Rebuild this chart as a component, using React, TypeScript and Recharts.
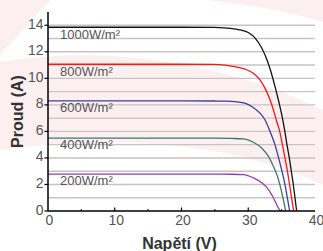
import React from "react";
import { LineChart, Line, XAxis, YAxis, CartesianGrid, ReferenceDot } from "recharts";

// I-V curves of a PV module at different irradiance levels
const irradianceLabels = ["1000W/m²", "800W/m²", "600W/m²", "400W/m²", "200W/m²"];
const curveColors = ["#111111", "#ff1414", "#3b3f9c", "#3a7773", "#9b3aae"];

const v1000 = [0, 10, 20, 25, 26.5, 28.5, 30.0, 31.0, 32.0, 32.8, 33.4, 34.0, 34.5, 35.0, 35.45, 35.8, 36.15, 36.45, 36.75, 37.0, 37.25];
const i1000 = [13.85, 13.85, 13.85, 13.84, 13.8, 13.68, 13.45, 13.05, 12.3, 11.4, 10.5, 9.4, 8.4, 7.3, 6.1, 5.0, 4.0, 3.0, 2.0, 1.0, 0];

const v800 = [0, 10, 20, 25, 26.5, 28.0, 29.5, 30.76, 31.76, 32.5, 33.26, 33.76, 34.26, 34.65, 35.0, 35.5, 36.0, 36.4, 36.8];
const i800 = [11.06, 11.06, 11.06, 11.05, 11.0, 10.88, 10.7, 10.38, 9.88, 9.26, 8.38, 7.63, 6.75, 6.13, 5.3, 4.0, 2.6, 1.3, 0];

const v600 = [0, 10, 20, 25, 26.5, 28.0, 29.5, 30.76, 31.76, 32.5, 33.26, 34.0, 34.55, 35.05, 35.5, 35.85, 36.2];
const i600 = [8.3, 8.3, 8.3, 8.29, 8.28, 8.25, 8.13, 7.8, 7.38, 6.88, 6.0, 5.0, 4.0, 3.0, 2.0, 1.0, 0];

const v400 = [0, 10, 20, 25, 27.5, 29.3, 30.76, 32.0, 33.0, 33.76, 34.36, 34.86, 35.25, 35.6];
const i400 = [5.5, 5.5, 5.5, 5.49, 5.47, 5.43, 5.18, 4.75, 4.13, 3.38, 2.63, 1.75, 0.88, 0];

const v200 = [0, 10, 20, 25, 27.5, 29.3, 30.76, 32.0, 33.0, 33.76, 34.36, 34.8];
const i200 = [2.78, 2.78, 2.78, 2.78, 2.77, 2.74, 2.5, 2.13, 1.63, 1.0, 0.38, 0];

const xTicks = [0, 5, 10, 15, 20, 25, 30, 35, 40];
const yTicks = [0, 2, 4, 6, 8, 10, 12, 14];
const gridValues = [1, 2, 3, 4, 5, 6, 7, 8, 9, 10, 11, 12, 13, 14];
const rightTicks = [0.5, 1, 1.5, 2, 2.5, 3, 3.5, 4, 4.5, 5, 5.5, 6, 6.5, 7, 7.5, 8, 8.5, 9, 9.5, 10, 10.5, 11, 11.5, 12, 12.5, 13, 13.5, 14, 14.5];

const curves = [
  { v: v1000, i: i1000 },
  { v: v800, i: i800 },
  { v: v600, i: i600 },
  { v: v400, i: i400 },
  { v: v200, i: i200 },
].map((c) => c.v.map((v, k) => ({ v, i: c.i[k] })));

const FONT = "'Liberation Sans', Arial, sans-serif";
const TICK_COLOR = "#555";

const XTick = ({ x, y, payload }: any) => {
  const val = payload.value;
  const major = val % 10 === 0;
  return (
    <g>
      {val > 0 && val < 40 && (
        <line x1={x} x2={x} y1={y} y2={y - (major ? 3.5 : 1.8)} stroke="#000" strokeWidth={1.2} />
      )}
      {major && (
        <text x={x + 1.5} y={y + 13.5} textAnchor="middle" fill={TICK_COLOR} fontSize={14} fontFamily={FONT}>
          {val}
        </text>
      )}
    </g>
  );
};

const YTick = ({ x, y, payload }: any) => (
  <g>
    <line x1={x - 3.5} x2={x} y1={y} y2={y} stroke="#000" strokeWidth={1.2} />
    <text x={x - 4.5} y={y + 3.5} textAnchor="end" fill={TICK_COLOR} fontSize={14} fontFamily={FONT}>
      {payload.value}
    </text>
  </g>
);

const RTick = ({ x, y }: any) => <line x1={x - 2} x2={x} y1={y} y2={y} stroke="#000" strokeWidth={1} />;

export default function App() {
  return (
    <div style={{ position: "absolute", left: 0, top: 0, width: 323, height: 251, background: "#fff" }}>
      <svg width={323} height={251} style={{ position: "absolute", left: 0, top: 0 }}>
        <path d="M0,0 L50,0 L0,55 Z" fill="#fcefef" />
        <path d="M205,0 L323,0 L323,22 Q270,6 205,0 Z" fill="#fcefef" />
        <path d="M0,62 C100,45 220,60 323,110 L323,185 C230,140 110,135 0,150 Z" fill="#fcefef" />
      </svg>
      <div style={{ position: "absolute", left: 0, top: 0 }}>
        <LineChart width={323} height={251} margin={{ top: 12, right: 8, bottom: 0, left: 0 }}>
          <CartesianGrid horizontal vertical={false} horizontalValues={gridValues} stroke="#c9c3c3" strokeWidth={1.4} />
          <XAxis
            dataKey="v"
            type="number"
            domain={[0, 40]}
            ticks={xTicks}
            interval={0}
            height={40}
            tickSize={0}
            tickMargin={0}
            tickLine={false}
            axisLine={{ stroke: "#000", strokeWidth: 1.5 }}
            tick={<XTick />}
            label={{ value: "Napětí (V)", position: "insideBottom", offset: 2, dx: -2, fill: "#333", fontSize: 16, fontWeight: 700, fontFamily: FONT }}
          />
          <XAxis xAxisId="top" orientation="top" type="number" domain={[0, 40]} height={0} tick={false} tickLine={false} axisLine={{ stroke: "#000", strokeWidth: 1.5 }} />
          <YAxis
            type="number"
            domain={[0, 15]}
            ticks={yTicks}
            interval={0}
            width={48}
            tickSize={0}
            tickMargin={0}
            tickLine={false}
            axisLine={{ stroke: "#000", strokeWidth: 1.5 }}
            tick={<YTick />}
            label={{ value: "Proud (A)", angle: -90, position: "center", dx: -7, fill: "#333", fontSize: 16, fontWeight: 700, fontFamily: FONT }}
          />
          <YAxis
            yAxisId="r"
            orientation="right"
            type="number"
            domain={[0, 15]}
            ticks={rightTicks}
            interval={0}
            width={0}
            tickSize={0}
            tickMargin={0}
            tickLine={false}
            tick={<RTick />}
            axisLine={{ stroke: "#000", strokeWidth: 1.5 }}
          />
          {curves.map((d, k) => (
            <Line
              key={irradianceLabels[k]}
              data={d}
              dataKey="i"
              type="monotone"
              stroke={curveColors[k]}
              strokeWidth={1.3}
              dot={false}
              isAnimationActive={false}
            />
          ))}
          {curves.map((d, k) => (
            <ReferenceDot
              key={"lbl" + k}
              x={1.8}
              y={d[0].i - 0.5}
              r={0}
              fill="none"
              stroke="none"
              label={{ value: irradianceLabels[k], position: "right", offset: 0, fill: "#555", fontSize: 13, fontFamily: FONT }}
            />
          ))}
        </LineChart>
      </div>
    </div>
  );
}
